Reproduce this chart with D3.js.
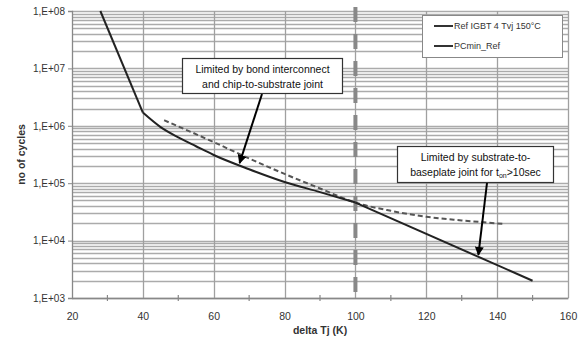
<!DOCTYPE html>
<html>
<head>
<meta charset="utf-8">
<script src="https://cdn.jsdelivr.net/npm/d3@7"></script>
<style>
  body { margin: 0; background: #fff; }
  svg { font-family: "Liberation Sans", Arial, sans-serif; }
</style>
</head>
<body>
<svg width="581" height="343"></svg>
<script>
// data
var refDT = [28, 40, 45, 50, 55, 60, 70, 80, 90, 100, 150];
var refN = [1e8, 1.7e6, 9.5e5, 6.3e5, 4.4e5, 3.1e5, 1.75e5, 1.05e5, 7e4, 4.6e4, 2e3];
var pcDT = [46, 60, 70, 80, 90, 100, 110, 120, 130, 142];
var pcN = [1.25e6, 5.2e5, 2.7e5, 1.45e5, 8.1e4, 4.6e4, 3.3e4, 2.6e4, 2.25e4, 1.95e4];
var xTicks = [20, 40, 60, 80, 100, 120, 140, 160];
var yTicks = [1e3, 1e4, 1e5, 1e6, 1e7, 1e8];
var yTickLabels = ["1,E+03", "1,E+04", "1,E+05", "1,E+06", "1,E+07", "1,E+08"];
var seriesNames = ["Ref IGBT 4  Tvj 150°C", "PCmin_Ref"];

var m = [11, 13, 45, 72]; // top right bottom left
var W = 581, H = 343;
var w = W - m[1] - m[3];
var h = H - m[0] - m[2];

var svg = d3.select("svg");
var g = svg.append("g").attr("transform", "translate(" + m[3] + "," + m[0] + ")");

var x = d3.scaleLinear().domain([20, 160]).range([0, w]);
var y = d3.scaleLog().domain([1e3, 1e8]).range([h, 0]);

// horizontal grid, every 1..9 per decade
var minor = [];
for (var e = 3; e < 8; e++) {
  for (var k = 1; k < 10; k++) minor.push(k * Math.pow(10, e));
}
minor.push(1e8);
g.selectAll(".hg").data(minor).enter().append("line")
  .attr("x1", 0).attr("x2", w)
  .attr("y1", function(d) { return Math.round(y(d)) + 0.5; })
  .attr("y2", function(d) { return Math.round(y(d)) + 0.5; })
  .attr("stroke", "#ababab").attr("stroke-width", 1.3);

// vertical grid
g.selectAll(".vg").data(xTicks.slice(1)).enter().append("line")
  .attr("y1", 0).attr("y2", h)
  .attr("x1", function(d) { return Math.round(x(d)) + 0.5; })
  .attr("x2", function(d) { return Math.round(x(d)) + 0.5; })
  .attr("stroke", "#a0a0a0").attr("stroke-width", 1.3);

// dashed marker at 100 K
g.append("line")
  .attr("x1", x(100)).attr("x2", x(100))
  .attr("y1", -4).attr("y2", h)
  .attr("stroke", "#888").attr("stroke-width", 4)
  .attr("stroke-dasharray", "15,12");

// axes
var xAxis = d3.axisBottom(x).tickValues(xTicks).tickSize(0).tickPadding(15);
var gx = g.append("g").attr("transform", "translate(0," + h + ")").call(xAxis);
gx.select(".domain").attr("stroke", "#888").attr("stroke-width", 1.3);
gx.selectAll("text").attr("font-size", "10.5px").attr("fill", "#333");

g.selectAll(".mt").data(d3.range(30, 160, 20)).enter().append("line")
  .attr("x1", function(d) { return x(d); }).attr("x2", function(d) { return x(d); })
  .attr("y1", h - 3).attr("y2", h + 3)
  .attr("stroke", "#888").attr("stroke-width", 1.2);

var yAxis = d3.axisLeft(y).tickValues(yTicks).tickSize(4)
  .tickFormat(function(d, i) { return yTickLabels[i]; });
var gy = g.append("g").call(yAxis);
gy.select(".domain").attr("stroke", "#888").attr("stroke-width", 1.3);
gy.selectAll(".tick line").attr("stroke", "#888");
gy.selectAll("text").attr("font-size", "10px").attr("fill", "#333");

// curves
var line = d3.line()
  .x(function(d) { return x(d[0]); })
  .y(function(d) { return y(d[1]); })
  .curve(d3.curveMonotoneX);
var straight = d3.line()
  .x(function(d) { return x(d[0]); })
  .y(function(d) { return y(d[1]); });

g.append("path").attr("d", line(d3.zip(pcDT, pcN)))
  .attr("fill", "none").attr("stroke", "#555").attr("stroke-width", 2)
  .attr("stroke-dasharray", "5,3");

var refPts = d3.zip(refDT, refN);
g.append("path").attr("d", straight(refPts.slice(0, 2)))
  .attr("fill", "none").attr("stroke", "#222").attr("stroke-width", 2);
g.append("path").attr("d", line(refPts.slice(1, 10)))
  .attr("fill", "none").attr("stroke", "#222").attr("stroke-width", 2);
g.append("path").attr("d", straight(refPts.slice(9)))
  .attr("fill", "none").attr("stroke", "#222").attr("stroke-width", 2);

// axis titles
svg.append("text").attr("x", m[3] + w / 2).attr("y", 334)
  .attr("text-anchor", "middle").attr("font-size", "10.5px").attr("font-weight", "bold")
  .attr("fill", "#333").text("delta Tj (K)");
svg.append("text").attr("transform", "translate(25," + (m[0] + h / 2) + ") rotate(-90)")
  .attr("text-anchor", "middle").attr("font-size", "10.5px").attr("font-weight", "bold")
  .attr("fill", "#333").text("no of cycles");

// legend
var lg = svg.append("g");
lg.append("rect").attr("x", 422.5).attr("y", 15.5).attr("width", 140).attr("height", 42)
  .attr("fill", "#fff").attr("stroke", "#888");
seriesNames.forEach(function(s, i) {
  var yy = 26 + i * 20;
  lg.append("line").attr("x1", 434).attr("x2", 453).attr("y1", yy).attr("y2", yy)
    .attr("stroke", "#333").attr("stroke-width", 2);
  lg.append("text").attr("x", 454).attr("y", yy + 3).attr("font-size", "9px")
    .attr("fill", "#333").text(s);
});

// annotations
svg.append("defs").append("marker").attr("id", "ah")
  .attr("viewBox", "0 0 10 10").attr("refX", 9).attr("refY", 5)
  .attr("markerWidth", 4.5).attr("markerHeight", 4.5).attr("orient", "auto")
  .append("path").attr("d", "M0,0L10,5L0,10z").attr("fill", "#000");

function note(bx, by, bw, bh, lines, ax, ay, tx, ty) {
  svg.append("line").attr("x1", ax).attr("y1", ay).attr("x2", tx).attr("y2", ty)
    .attr("stroke", "#000").attr("stroke-width", 2).attr("marker-end", "url(#ah)");
  svg.append("rect").attr("x", bx).attr("y", by).attr("width", bw).attr("height", bh)
    .attr("fill", "#fff").attr("stroke", "#333").attr("stroke-width", 1.2);
  lines.forEach(function(t, i) {
    var tt = svg.append("text").attr("x", bx + bw / 2).attr("y", by + 14 + i * 15)
      .attr("text-anchor", "middle").attr("font-size", "10.5px").attr("fill", "#111");
    t.forEach(function(p) {
      var ts = tt.append("tspan").text(p[0]);
      if (p[1]) ts.attr("font-size", "7px").attr("dy", 2);
      else if (p[2]) ts.attr("dy", -2);
    });
  });
}

note(182.5, 58.5, 160, 35,
  [[["Limited by bond interconnect"]], [["and chip-to-substrate joint"]]],
  262, 94, x(67.3) + m[3], y(2.15e5) + m[0] - 1);
note(397.5, 146.5, 156, 36,
  [[["Limited by substrate-to-"]], [["baseplate joint for t"], ["on", true], [">10sec", false, true]]],
  487, 183, x(134.7) + m[3], y(5.4e3) + m[0] - 1);
</script>
</body>
</html>
